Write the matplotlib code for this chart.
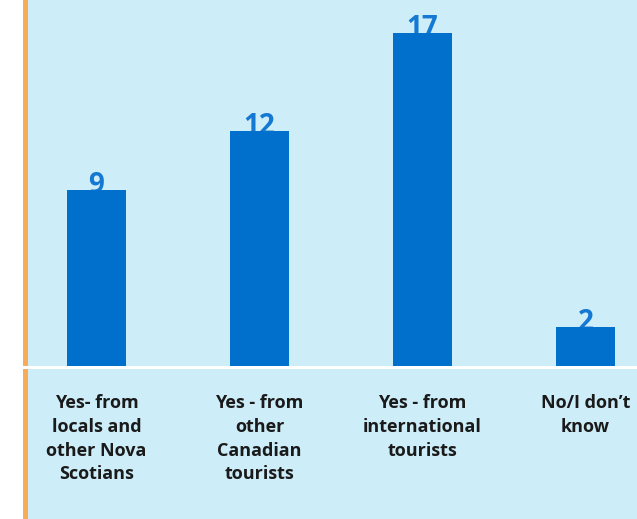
import matplotlib.pyplot as plt
from matplotlib.patches import Rectangle
from matplotlib.lines import Line2D

kategorier = ["Yes- from\nlocals and\nother Nova\nScotians",
              "Yes - from\nother\nCanadian\ntourists",
              "Yes - from\ninternational\ntourists",
              "No/I don\u2019t\nknow"]
verdier = [9, 12, 17, 2]

bakgrunn = "#cdedf8"
stolpefarge = "#0070cc"
tallfarge = "#1578d2"

fig = plt.figure(figsize=(6.37, 5.19), dpi=100, facecolor="white")

# lyseblå flate til høyre for den oransje streken
fig.patches.append(Rectangle((27/637, 0), 1, 1, transform=fig.transFigure,
                             facecolor=bakgrunn, edgecolor="none", zorder=-2))
fig.lines.append(Line2D([24.5/637, 24.5/637], [0, 1], transform=fig.transFigure,
                        color="#f9ac57", linewidth=3.6, zorder=-1))
fig.lines.append(Line2D([22/637, 1], [152.5/519, 152.5/519], transform=fig.transFigure,
                        color="white", linewidth=2.2, zorder=-1))

ax = fig.add_axes([27/637, 153/519, 610/637, 366/519])
ax.set_facecolor("none")
x = range(len(verdier))
ax.bar(x, verdier, width=0.362, color=stolpefarge, zorder=3)
for i, v in zip(x, verdier):
    ax.text(i, v - 0.15, str(v), ha="center", va="baseline", color=tallfarge,
            fontsize=20, fontweight="bold", family="Open Sans", zorder=2)

ax.set_xlim(-0.426, 3.316)
ax.set_ylim(0, 18.67)
ax.set_yticks([])
ax.set_xticks(list(x))
ax.set_xticklabels(kategorier, fontsize=13, fontweight="bold", family="Open Sans",
                   color="#1a1a1a", linespacing=1.42)
ax.tick_params(axis="x", length=0, pad=20)
for s in ax.spines.values():
    s.set_visible(False)

plt.savefig("out.png", dpi=100, facecolor=fig.get_facecolor())
